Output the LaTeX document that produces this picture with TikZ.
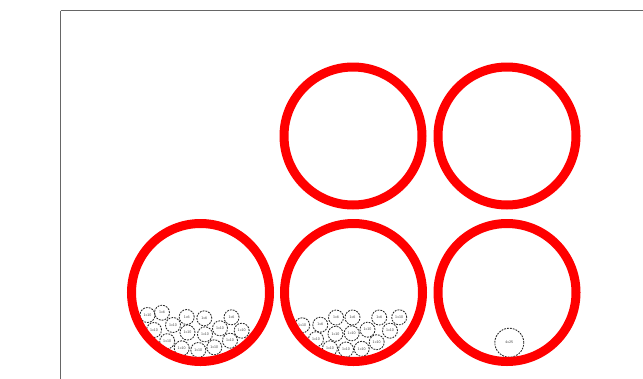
\documentclass[tikz,border=0pt]{standalone}
\begin{document}
\begin{tikzpicture}[x=1pt,y=-1pt,
  ring/.style={circle,draw=red,line width=9pt,minimum size=138pt,inner sep=0pt},
  pipe/.style={circle,draw=black!85,dash pattern=on 1.8pt off 1.1pt,line width=0.85pt,
    minimum size=15pt,inner sep=0pt,text=black!75,font=\sffamily\fontsize{3.8}{4}\selectfont},
  bigpipe/.style={pipe,minimum size=29pt},
  frame/.style={draw=black!60,line width=1.5pt}]
\useasboundingbox (0,0) rectangle (643,378);
\clip (0,0) rectangle (643,378);
\fill[white] (0,0) rectangle (643,378);
\draw[frame] (60.5,10.5) -- (700,10.5) (60.5,10.5) -- (60.5,420);
% bottom-left pile
\node[pipe] (a1) at (147.5,315) {1x10};
\node[pipe] (a2) at (162,312.7) {1x6};
\node[pipe] (a3) at (186.7,317) {1x6};
\node[pipe] (a4) at (204.3,318.3) {1x6};
\node[pipe] (a5) at (231.5,317.3) {1x6};
\node[pipe] (a6) at (154,330) {1x10};
\node[pipe] (a7) at (173,325) {1x10};
\node[pipe] (a8) at (187.5,332.5) {1x10};
\node[pipe] (a9) at (205,334.3) {1x10};
\node[pipe] (a10) at (220,328.3) {1x10};
\node[pipe] (a11) at (241.7,330.7) {1x10};
\node[pipe] (a12) at (167.2,341.2) {1x10};
\node[pipe] (a13) at (181.7,348.3) {1x10};
\node[pipe] (a14) at (198.3,350) {1x10};
\node[pipe] (a15) at (214.3,347.3) {1x10};
\node[pipe] (a16) at (230,340.7) {1x10};
% bottom-middle pile
\node[pipe] (b1) at (320.3,324.7) {1x6};
\node[pipe] (b2) at (336,317.5) {1x6};
\node[pipe] (b3) at (352.5,317.5) {1x6};
\node[pipe] (b4) at (379.2,317.5) {1x6};
\node[pipe] (b5) at (399.2,317.3) {1x10};
\node[pipe] (b6) at (302.2,325.3) {1x10};
\node[pipe] (b7) at (335.5,333.8) {1x10};
\node[pipe] (b8) at (351.7,333.3) {1x10};
\node[pipe] (b9) at (367.5,329.7) {1x10};
\node[pipe] (b10) at (390,330.7) {1x10};
\node[pipe] (b11) at (316,339.2) {1x10};
\node[pipe] (b12) at (330,348.3) {1x10};
\node[pipe] (b13) at (346,349.5) {1x10};
\node[pipe] (b14) at (361.7,348.8) {1x10};
\node[pipe] (b15) at (376.7,342.2) {1x10};
% bottom-right
\node[bigpipe] (c1) at (509.3,342.7) {4x25};
% rings
\node[ring] (r1) at (353,136) {};
\node[ring] (r2) at (507,136) {};
\node[ring] (r3) at (200.5,292.5) {};
\node[ring] (r4) at (353.5,292.5) {};
\node[ring] (r5) at (507,292.5) {};
\end{tikzpicture}
\end{document}
